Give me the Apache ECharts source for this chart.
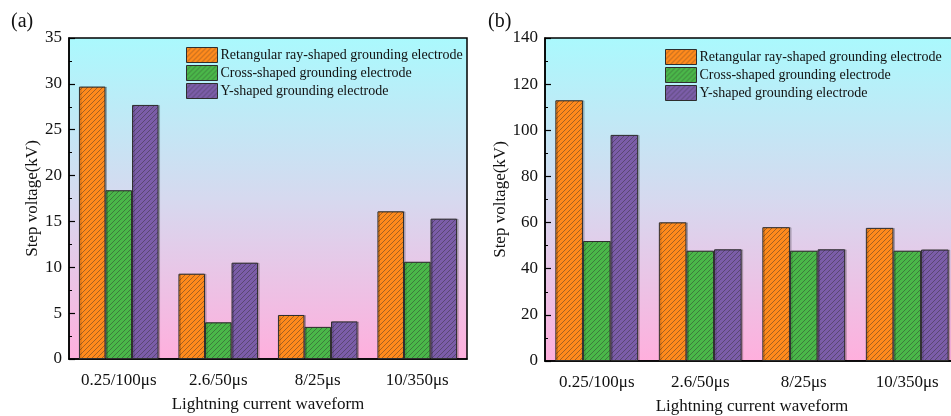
<!DOCTYPE html>
<html>
<head>
<meta charset="utf-8">
<script src="https://cdn.jsdelivr.net/npm/echarts@6/dist/echarts.min.js"></script>
<style>
  html, body { margin: 0; padding: 0; background: #ffffff; }
  #chart { width: 951px; height: 416px; }
</style>
</head>
<body>
<div id="chart"></div>
<script>
// Lightning current waveforms on the x axis
const waveforms = ['0.25/100\u03bcs', '2.6/50\u03bcs', '8/25\u03bcs', '10/350\u03bcs'];
const seriesNames = [
  'Retangular ray-shaped grounding electrode',
  'Cross-shaped grounding electrode',
  'Y-shaped grounding electrode'
];

// Panel (a): step voltage in kV
const stepA_rect  = [29.7, 9.3, 4.8, 16.1];
const stepA_cross = [18.4, 4.0, 3.5, 10.6];
const stepA_y     = [27.7, 10.5, 4.1, 15.3];

// Panel (b): step voltage in kV
const stepB_rect  = [113.0, 60.1, 58.0, 57.7];
const stepB_cross = [52.0, 47.8, 47.8, 47.8];
const stepB_y     = [98.0, 48.4, 48.4, 48.3];

// Y axis ticks
const yTicksA = { max: 35, interval: 5 };
const yTicksB = { max: 140, interval: 20 };

const baseColors = ['#ff8a1c', '#4ab749', '#7b5da8'];

// Diagonal hatch fill built on a small repeating canvas tile
function hatch(base) {
  const s = 5;
  const c = document.createElement('canvas');
  c.width = s; c.height = s;
  const g = c.getContext('2d');
  g.fillStyle = base;
  g.fillRect(0, 0, s, s);
  g.strokeStyle = 'rgba(40,40,40,0.6)';
  g.lineWidth = 0.7;
  g.beginPath();
  g.moveTo(-1, s + 1); g.lineTo(s + 1, -1);
  g.moveTo(-1, 1); g.lineTo(1, -1);
  g.moveTo(s - 1, s + 1); g.lineTo(s + 1, s - 1);
  g.stroke();
  return { image: c, repeat: 'repeat' };
}

const plotBg = {
  type: 'linear', x: 0, y: 0, x2: 0, y2: 1,
  colorStops: [
    { offset: 0, color: '#aaf9fd' },
    { offset: 0.5, color: '#d6d9ef' },
    { offset: 1, color: '#ffafdd' }
  ]
};

const serif = '"Liberation Serif", "DejaVu Serif", serif';

function xAxisFor(gridIndex) {
  return {
    type: 'category', gridIndex, data: waveforms,
    axisLine: { lineStyle: { color: '#000', width: 1.5 } },
    axisTick: { show: false },
    axisLabel: { color: '#111', fontFamily: serif, fontSize: 17, margin: 13 },
    name: 'Lightning current waveform',
    nameLocation: 'middle', nameGap: 37,
    nameTextStyle: { color: '#111', fontFamily: serif, fontSize: 17 }
  };
}

function yAxisFor(gridIndex, ticks) {
  return {
    type: 'value', gridIndex, min: 0, max: ticks.max, interval: ticks.interval,
    axisLine: { show: true, lineStyle: { color: '#000', width: 1.5 } },
    axisTick: { show: true, inside: true, length: 6, lineStyle: { color: '#000', width: 1.2 } },
    minorTick: { show: true, splitNumber: 2, length: 3, lineStyle: { color: '#000', width: 1 } },
    splitLine: { show: false },
    axisLabel: { color: '#111', fontFamily: serif, fontSize: 17, margin: 7 },
    name: 'Step voltage(kV)',
    nameLocation: 'middle', nameGap: 28,
    nameTextStyle: { color: '#111', fontFamily: serif, fontSize: 17 }
  };
}

function barSeries(name, data, idx, axisIndex) {
  return {
    type: 'bar', name, data,
    xAxisIndex: axisIndex, yAxisIndex: axisIndex,
    barGap: '0%', barCategoryGap: '20%',
    itemStyle: {
      color: hatch(baseColors[idx]),
      borderColor: '#2e2e2e', borderWidth: 1,
      shadowColor: 'rgba(0,0,0,0.2)', shadowOffsetX: 1.5, shadowOffsetY: 0, shadowBlur: 0
    },
    emphasis: { disabled: true }
  };
}

function legendFor(left, top) {
  return {
    left, top, orient: 'vertical', itemGap: 2, itemWidth: 31, itemHeight: 15,
    icon: 'rect',
    data: seriesNames,
    textStyle: { color: '#111', fontFamily: serif, fontSize: 14, padding: [0, 0, 0, -2] },
    itemStyle: { borderColor: '#2e2e2e', borderWidth: 1 }
  };
}

const chart = echarts.init(document.getElementById('chart'), null, { renderer: 'canvas' });
chart.setOption({
  animation: false,
  title: [
    { text: '(a)', left: 6, top: 7, textStyle: { fontFamily: serif, fontSize: 20, fontWeight: 'normal', color: '#111' } },
    { text: '(b)', left: 483, top: 7, textStyle: { fontFamily: serif, fontSize: 20, fontWeight: 'normal', color: '#111' } }
  ],
  legend: [legendFor(181, 42), legendFor(660, 44)],
  grid: [
    { left: 69, top: 38, width: 398, height: 321, outerBoundsMode: 'none', containLabel: false,
      show: true, backgroundColor: plotBg, borderColor: '#000', borderWidth: 1.5 },
    { left: 545, top: 38, width: 414, height: 323, outerBoundsMode: 'none', containLabel: false,
      show: true, backgroundColor: plotBg, borderColor: '#000', borderWidth: 1.5 }
  ],
  xAxis: [xAxisFor(0), xAxisFor(1)],
  yAxis: [yAxisFor(0, yTicksA), yAxisFor(1, yTicksB)],
  series: [
    barSeries(seriesNames[0], stepA_rect, 0, 0),
    barSeries(seriesNames[1], stepA_cross, 1, 0),
    barSeries(seriesNames[2], stepA_y, 2, 0),
    barSeries(seriesNames[0], stepB_rect, 0, 1),
    barSeries(seriesNames[1], stepB_cross, 1, 1),
    barSeries(seriesNames[2], stepB_y, 2, 1)
  ]
});
</script>
</body>
</html>
